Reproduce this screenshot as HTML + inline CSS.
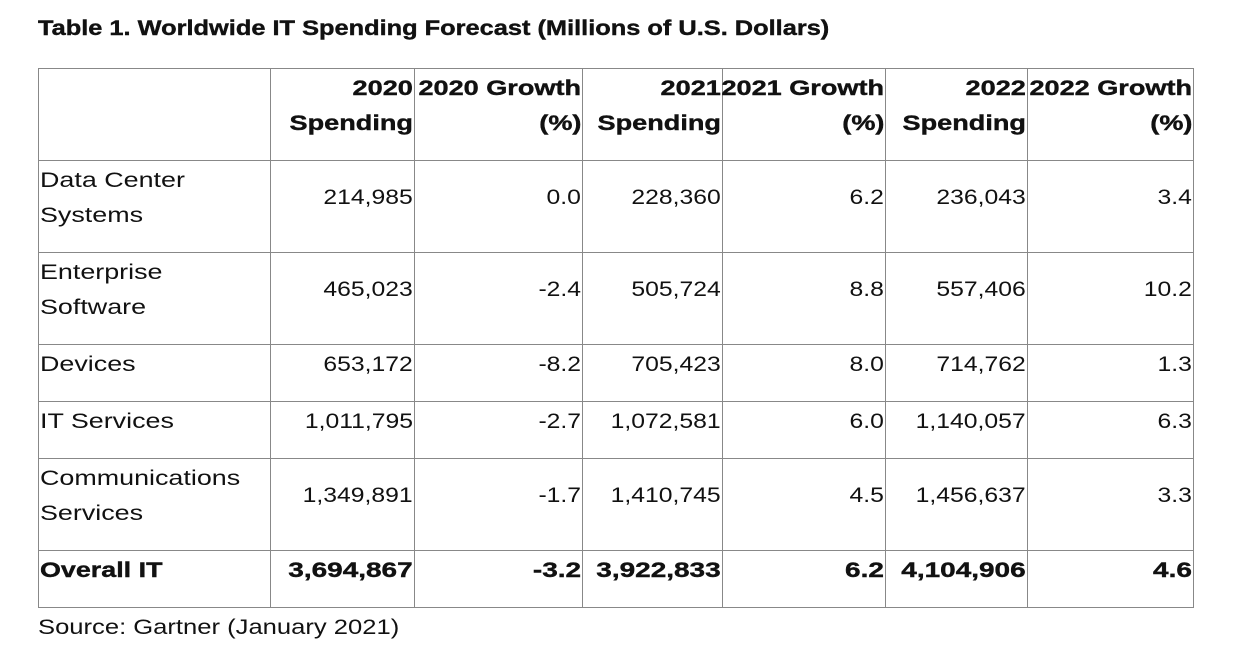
<!DOCTYPE html>
<html><head><meta charset="utf-8"><style>
body{margin:0;width:1247px;height:651px;background:#fff;font-family:"Liberation Sans",sans-serif;color:#111;position:relative;overflow:hidden}
h1{position:absolute;left:38px;top:16px;margin:0;font-size:21.5px;font-weight:bold;transform:scaleX(1.18);transform-origin:left;white-space:nowrap;-webkit-text-stroke:0.4px #111}
table{position:absolute;left:38px;top:68px;border-collapse:collapse;table-layout:fixed;border:1.5px solid #333}
td{border:1px solid #888;vertical-align:top;font-size:21.5px;line-height:35px;padding:2px 1px 0 1px;white-space:nowrap;overflow:visible}
td.n{text-align:right;padding-top:19px}
tr.s td.n{padding-top:2px}
tr.h td{font-weight:bold;text-align:right;padding-top:2px}
tr.b td{font-weight:bold;padding-top:2px}
span{display:inline-block}
.L{transform:scaleX(1.25);transform-origin:left}
.N{transform:scaleX(1.15);transform-origin:right}
.H{transform:scaleX(1.26);transform-origin:right;-webkit-text-stroke:0.4px #111}
.B{transform:scaleX(1.3);transform-origin:right;-webkit-text-stroke:0.4px #111}
.BL{transform:scaleX(1.25);transform-origin:left;-webkit-text-stroke:0.4px #111}
.src{position:absolute;left:38px;top:612px;font-size:21.5px;line-height:30px;transform:scaleX(1.19);transform-origin:left;white-space:nowrap}
</style></head><body>
<h1>Table 1. Worldwide IT Spending Forecast (Millions of U.S. Dollars)</h1>
<table>
<colgroup><col style="width:232px"><col style="width:144px"><col style="width:168px"><col style="width:140px"><col style="width:163px"><col style="width:142px"><col style="width:166px"></colgroup>
<tr class="h" style="height:92px"><td></td><td><span class="H">2020</span><br><span class="H">Spending</span></td><td><span class="H">2020 Growth</span><br><span class="H">(%)</span></td><td><span class="H">2021</span><br><span class="H">Spending</span></td><td><span class="H">2021 Growth</span><br><span class="H">(%)</span></td><td><span class="H">2022</span><br><span class="H">Spending</span></td><td><span class="H">2022 Growth</span><br><span class="H">(%)</span></td></tr>
<tr style="height:92px"><td><span class="L">Data Center</span><br><span class="L">Systems</span></td><td class="n"><span class="N">214,985</span></td><td class="n"><span class="N">0.0</span></td><td class="n"><span class="N">228,360</span></td><td class="n"><span class="N">6.2</span></td><td class="n"><span class="N">236,043</span></td><td class="n"><span class="N">3.4</span></td></tr>
<tr style="height:92px"><td><span class="L">Enterprise</span><br><span class="L">Software</span></td><td class="n"><span class="N">465,023</span></td><td class="n"><span class="N">-2.4</span></td><td class="n"><span class="N">505,724</span></td><td class="n"><span class="N">8.8</span></td><td class="n"><span class="N">557,406</span></td><td class="n"><span class="N">10.2</span></td></tr>
<tr class="s" style="height:57px"><td><span class="L">Devices</span></td><td class="n"><span class="N">653,172</span></td><td class="n"><span class="N">-8.2</span></td><td class="n"><span class="N">705,423</span></td><td class="n"><span class="N">8.0</span></td><td class="n"><span class="N">714,762</span></td><td class="n"><span class="N">1.3</span></td></tr>
<tr class="s" style="height:57px"><td><span class="L">IT Services</span></td><td class="n"><span class="N">1,011,795</span></td><td class="n"><span class="N">-2.7</span></td><td class="n"><span class="N">1,072,581</span></td><td class="n"><span class="N">6.0</span></td><td class="n"><span class="N">1,140,057</span></td><td class="n"><span class="N">6.3</span></td></tr>
<tr style="height:92px"><td><span class="L">Communications</span><br><span class="L">Services</span></td><td class="n"><span class="N">1,349,891</span></td><td class="n"><span class="N">-1.7</span></td><td class="n"><span class="N">1,410,745</span></td><td class="n"><span class="N">4.5</span></td><td class="n"><span class="N">1,456,637</span></td><td class="n"><span class="N">3.3</span></td></tr>
<tr class="b s" style="height:57px"><td><span class="BL">Overall IT</span></td><td class="n"><span class="B">3,694,867</span></td><td class="n"><span class="B">-3.2</span></td><td class="n"><span class="B">3,922,833</span></td><td class="n"><span class="B">6.2</span></td><td class="n"><span class="B">4,104,906</span></td><td class="n"><span class="B">4.6</span></td></tr>
</table>
<div class="src">Source: Gartner (January 2021)</div>
</body></html>
